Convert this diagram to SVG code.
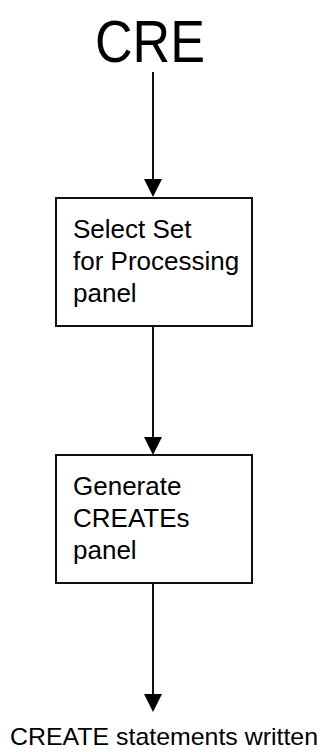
<svg xmlns="http://www.w3.org/2000/svg" width="325" height="752" viewBox="0 0 325 752">
<style>
text{font-family:"Liberation Sans",Arial,sans-serif;fill:#000}
.lbl{font-size:26px}
.box{fill:#fff;stroke:#111;stroke-width:2}
.conn{stroke:#111;stroke-width:2;fill:none}
.head{fill:#000}
</style>
<rect width="325" height="752" fill="#fff"/>
<g id="start"><text x="95" y="62" font-size="60" textLength="110" lengthAdjust="spacingAndGlyphs">CRE</text></g>
<g id="connectors">
<path d="M153,72 V179" class="conn"/><path d="M144,179 H162 L153,197 Z" class="head"/>
<path d="M153,326 V437" class="conn"/><path d="M144,437 H162 L153,455 Z" class="head"/>
<path d="M153,583 V694" class="conn"/><path d="M144,694 H162 L153,712 Z" class="head"/>
</g>
<g id="select-set">
<rect x="56" y="198" width="196" height="128" class="box"/>
<text class="lbl" x="73" y="238">Select Set</text>
<text class="lbl" x="73" y="270">for Processing</text>
<text class="lbl" x="73" y="302">panel</text>
</g>
<g id="generate">
<rect x="56" y="455" width="196" height="128" class="box"/>
<text class="lbl" x="73" y="495">Generate</text>
<text class="lbl" x="73" y="527">CREATEs</text>
<text class="lbl" x="73" y="559">panel</text>
</g>
<g id="end"><text x="10" y="745" font-size="24" textLength="308" lengthAdjust="spacingAndGlyphs">CREATE statements written</text></g>
</svg>
